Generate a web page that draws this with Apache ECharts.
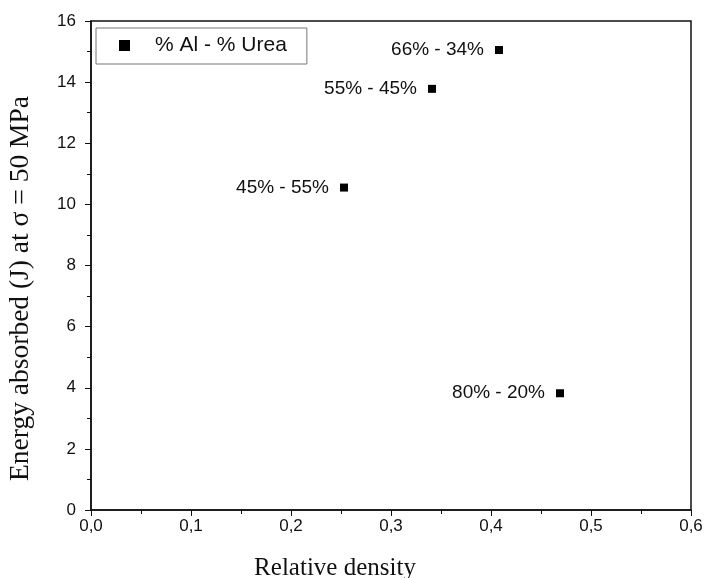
<!DOCTYPE html>
<html lang="en">
<head>
    <meta charset="UTF-8">
    <title>Energy absorbed vs relative density</title>
    <script src="https://cdn.jsdelivr.net/npm/echarts@6/dist/echarts.min.js"></script>
</head>
<body style="margin:0;background:#fff;">
    <div id="main" style="width:706px;height:578px;"></div>
    <script>
        // composition labels (% Al - % Urea)
        var names = ['66% - 34%', '55% - 45%', '45% - 55%', '80% - 20%'];
        var density = [0.408, 0.341, 0.253, 0.469];
        var energy = [15.05, 13.78, 10.55, 3.82];

        var points = [];
        names.forEach(function (n, i) {
            points.push({ name: n, value: [density[i], energy[i]] });
        });

        var myChart = echarts.init(document.getElementById('main'));
        myChart.setOption({
            backgroundColor: '#fff',
            animation: false,
            grid: {
                left: 91, right: 15, top: 21, bottom: 68,
                outerBoundsMode: 'none', containLabel: false,
                show: true, borderColor: '#111', borderWidth: 1.5
            },
            legend: {
                left: 96, top: 28,
                orient: 'vertical',
                borderColor: '#777', borderWidth: 1,
                padding: [7, 20, 8, 23],
                itemWidth: 11, itemHeight: 11,
                textStyle: { fontFamily: 'Liberation Sans', fontSize: 21, color: '#111', padding: [0, 0, 0, 20] },
                data: [{ name: '% Al - % Urea', icon: 'rect', itemStyle: { color: '#000', opacity: 1 } }]
            },
            xAxis: {
                type: 'value', min: 0, max: 0.6, interval: 0.1,
                name: 'Relative density', nameLocation: 'middle', nameGap: 46,
                nameTextStyle: { fontFamily: 'Liberation Serif', fontSize: 25, color: '#111', padding: [0, 112, 0, 0] },
                axisLine: { lineStyle: { color: '#111', width: 1.5 } },
                axisTick: { inside: false, length: 6, lineStyle: { color: '#111' } },
                minorTick: { show: true, splitNumber: 2, length: 4, lineStyle: { color: '#111' } },
                splitLine: { show: false },
                axisLabel: {
                    fontFamily: 'Liberation Sans', fontSize: 17, color: '#111', margin: 8,
                    formatter: function (v) { return v.toFixed(1).replace('.', ','); }
                }
            },
            yAxis: {
                type: 'value', min: 0, max: 16, interval: 2,
                name: 'Energy absorbed (J) at σ = 50 MPa', nameLocation: 'middle', nameGap: 56,
                nameTextStyle: { fontFamily: 'Liberation Serif', fontSize: 27.5, color: '#111', padding: [0, 46, 0, 0] },
                axisLine: { lineStyle: { color: '#111', width: 1.5 } },
                axisTick: { inside: false, length: 6, lineStyle: { color: '#111' } },
                minorTick: { show: true, splitNumber: 2, length: 4, lineStyle: { color: '#111' } },
                splitLine: { show: false },
                axisLabel: { fontFamily: 'Liberation Sans', fontSize: 17, color: '#111', margin: 15 }
            },
            series: [{
                name: '% Al - % Urea',
                type: 'scatter',
                symbol: 'rect',
                symbolSize: 8,
                itemStyle: { color: '#000', opacity: 1 },
                label: {
                    show: true, position: 'left', distance: 11,
                    fontFamily: 'Liberation Sans', fontSize: 19, color: '#111',
                    formatter: function (p) { return p.name; }
                },
                data: points
            }]
        });
    </script>
</body>
</html>
